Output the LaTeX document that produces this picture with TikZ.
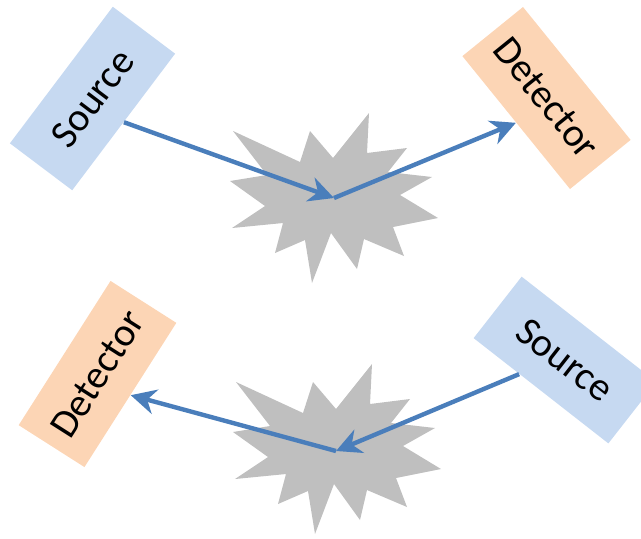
\documentclass[tikz,border=0pt]{standalone}
\usepackage{fontspec}
\setmainfont{Carlito}
\usetikzlibrary{arrows.meta,calc}
\definecolor{srcblue}{HTML}{C6D9F1}
\definecolor{detorange}{HTML}{FCD5B5}
\definecolor{beamblue}{HTML}{4A7EBB}
\definecolor{burstgray}{HTML}{BFBFBF}

\begin{document}
\begin{tikzpicture}[x=0.5pt, y=-0.5pt,
  box/.style={rectangle, minimum width=85.5pt, minimum height=39pt, inner sep=0pt,
              font=\fontsize{20}{24}\selectfont},
  source/.style={box, fill=srcblue},
  detector/.style={box, fill=detorange},
  beam/.style={-{Stealth[length=12.5pt,width=12.5pt,inset=4pt]}, line width=2.2pt, draw=beamblue},
  burst/.pic={\fill[burstgray] (-101,-67) -- (-34,-36) -- (-24,-67) -- (-1,-40) -- (35,-85)
      -- (33,-45) -- (73,-50) -- (54,-26) -- (98,-21) -- (66,-3) -- (104,20) -- (59,29)
      -- (70,58) -- (30,41) -- (23,71) -- (-3,35) -- (-22,85) -- (-29,42) -- (-59,55)
      -- (-51,25) -- (-102,30) -- (-69,8) -- (-104,-17) -- (-67,-23) -- cycle;}
]
  \useasboundingbox (0,0) rectangle (641,538);
  \clip (0,0) rectangle (641,538);
  % upper scattering event
  \pic at (334,198) {burst};
  \coordinate (hit1) at (334,198);
  \node[source, rotate=53] (src1) at (92.5,98.5) {Source};
  \node[detector, rotate=-51] (det1) at (546.5,98) {Detector};
  \draw[beam] (src1.south) -- (hit1);
  \draw[beam] (hit1) -- (det1.south);
  % lower scattering event
  \pic at (337,449) {burst};
  \coordinate (hit2) at (336,451);
  \node[source, rotate=-38] (src2) at (565,360) {Source};
  \node[detector, rotate=57.5] (det2) at (97.5,374) {Detector};
  \draw[beam] ($(src2.south west)!0.34!(src2.south east)$) -- (hit2);
  \draw[beam] (hit2) -- (det2.south);
\end{tikzpicture}
\end{document}
